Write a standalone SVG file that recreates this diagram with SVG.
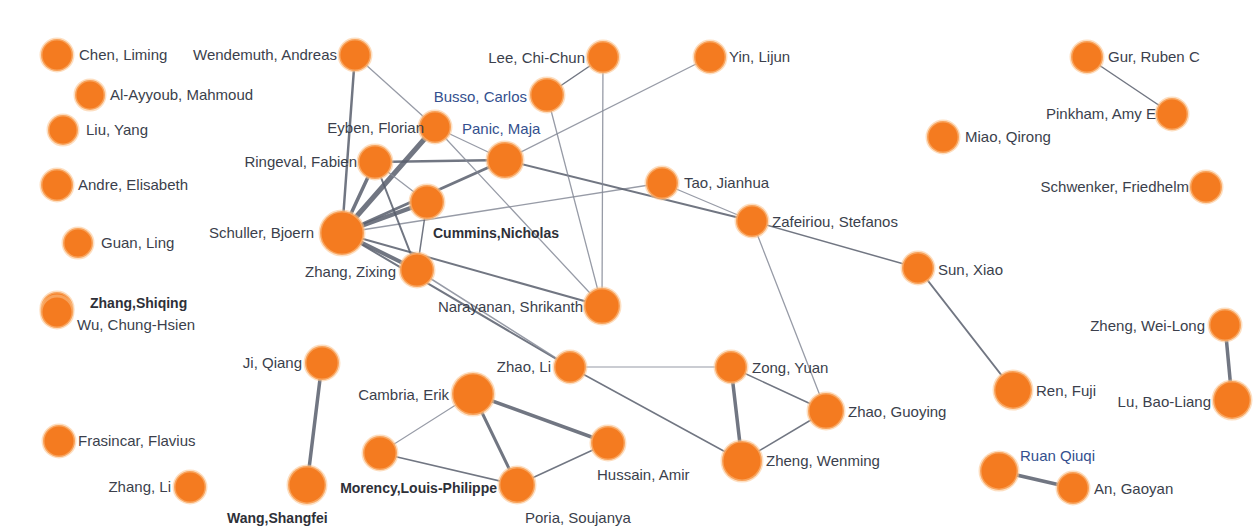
<svg xmlns="http://www.w3.org/2000/svg" width="1253" height="532" viewBox="0 0 1253 532">
  <style>
    .node { fill: #F47B20; stroke: #FCC38C; stroke-width: 3; stroke-opacity: 0.55; }
    .lbl { font-family: "Liberation Sans", Arial, sans-serif; font-size: 15px; fill: #3b3f4c; }
    .b { font-weight: bold; fill: #2e3038; font-size: 14px; }
    .blue { fill: #34508e; }
    .end { text-anchor: end; }
    .e { stroke: #585e6c; stroke-opacity: 0.85; fill: none; stroke-linecap: round; }
    .lt { stroke: #858a96; }
  </style>
  <rect width="1253" height="532" fill="#ffffff"/>

  <!-- co-author links -->
  <g id="connectors">
    <line class="e" x1="355" y1="55" x2="342" y2="233" stroke-width="2.5"/>
    <line class="e lt" x1="355" y1="55" x2="435" y2="127" stroke-width="1.3"/>
    <line class="e" x1="342" y1="233" x2="435" y2="127" stroke-width="5"/>
    <line class="e" x1="342" y1="233" x2="375" y2="162" stroke-width="3.5"/>
    <line class="e" x1="342" y1="233" x2="427" y2="202" stroke-width="4.5"/>
    <line class="e" x1="342" y1="233" x2="505" y2="160" stroke-width="3"/>
    <line class="e" x1="342" y1="233" x2="417" y2="270" stroke-width="4"/>
    <line class="e" x1="342" y1="233" x2="602" y2="306" stroke-width="2"/>
    <line class="e lt" x1="342" y1="233" x2="662" y2="183" stroke-width="1.3"/>
    <line class="e" x1="342" y1="233" x2="570" y2="367" stroke-width="2"/>
    <line class="e lt" x1="417" y1="270" x2="570" y2="367" stroke-width="1.5"/>
    <line class="e" x1="375" y1="162" x2="505" y2="160" stroke-width="2.5"/>
    <line class="e" x1="375" y1="162" x2="417" y2="270" stroke-width="2"/>
    <line class="e lt" x1="375" y1="162" x2="427" y2="202" stroke-width="1.3"/>
    <line class="e lt" x1="435" y1="127" x2="505" y2="160" stroke-width="1.3"/>
    <line class="e lt" x1="435" y1="127" x2="602" y2="306" stroke-width="1.3"/>
    <line class="e" x1="427" y1="202" x2="417" y2="270" stroke-width="1.5"/>
    <line class="e lt" x1="505" y1="160" x2="710" y2="57" stroke-width="1.3"/>
    <line class="e" x1="505" y1="160" x2="752" y2="221" stroke-width="2"/>
    <line class="e lt" x1="662" y1="183" x2="752" y2="221" stroke-width="1.3"/>
    <line class="e" x1="752" y1="221" x2="918" y2="268" stroke-width="1.5"/>
    <line class="e lt" x1="752" y1="221" x2="826" y2="411" stroke-width="1.3"/>
    <line class="e" x1="918" y1="268" x2="1013" y2="390" stroke-width="2"/>
    <line class="e" x1="603" y1="57" x2="547" y2="95" stroke-width="1.5"/>
    <line class="e lt" x1="603" y1="57" x2="602" y2="306" stroke-width="1.3"/>
    <line class="e lt" x1="547" y1="95" x2="602" y2="306" stroke-width="1.3"/>
    <line class="e lt" x1="570" y1="367" x2="731" y2="367" stroke-width="1.2"/>
    <line class="e" x1="570" y1="367" x2="742" y2="461" stroke-width="1.5"/>
    <line class="e" x1="731" y1="367" x2="742" y2="461" stroke-width="3.5"/>
    <line class="e" x1="731" y1="367" x2="826" y2="411" stroke-width="1.5"/>
    <line class="e" x1="742" y1="461" x2="826" y2="411" stroke-width="1.5"/>
    <line class="e" x1="473" y1="394" x2="608" y2="443" stroke-width="3.5"/>
    <line class="e" x1="473" y1="394" x2="517" y2="485" stroke-width="3"/>
    <line class="e lt" x1="473" y1="394" x2="380" y2="453" stroke-width="1.1"/>
    <line class="e" x1="380" y1="453" x2="517" y2="485" stroke-width="1.5"/>
    <line class="e" x1="517" y1="485" x2="608" y2="443" stroke-width="1.5"/>
    <line class="e" x1="322" y1="363" x2="307" y2="485" stroke-width="3.5"/>
    <line class="e" x1="1087" y1="57" x2="1172" y2="114" stroke-width="1.5"/>
    <line class="e" x1="1225" y1="325" x2="1232" y2="400" stroke-width="3.5"/>
    <line class="e" x1="999" y1="471" x2="1073" y2="488" stroke-width="3.5"/>
  </g>

  <g id="chen"><circle class="node" cx="57" cy="55" r="16"/><text class="lbl" x="79" y="60">Chen, Liming</text></g>
  <g id="wendemuth"><circle class="node" cx="355" cy="55" r="16"/><text class="lbl end" x="337" y="60">Wendemuth, Andreas</text></g>
  <g id="alayyoub"><circle class="node" cx="90" cy="95" r="15"/><text class="lbl" x="110" y="100">Al-Ayyoub, Mahmoud</text></g>
  <g id="liu"><circle class="node" cx="63" cy="130" r="15"/><text class="lbl" x="86" y="135">Liu, Yang</text></g>
  <g id="andre"><circle class="node" cx="57" cy="185" r="16"/><text class="lbl" x="78" y="190">Andre, Elisabeth</text></g>
  <g id="guan"><circle class="node" cx="78" cy="243" r="15"/><text class="lbl" x="101" y="248">Guan, Ling</text></g>
  <g id="zhang-shiqing"><circle class="node" cx="57" cy="308" r="16"/><circle class="node" cx="57" cy="312" r="16"/><text class="lbl b" x="90" y="308">Zhang,Shiqing</text><text class="lbl" x="77" y="330">Wu, Chung-Hsien</text></g>
  <g id="frasincar"><circle class="node" cx="59" cy="441" r="16"/><text class="lbl" x="78" y="446">Frasincar, Flavius</text></g>
  <g id="zhang-li"><circle class="node" cx="190" cy="487" r="16"/><text class="lbl end" x="171" y="492">Zhang, Li</text></g>
  <g id="schuller"><circle class="node" cx="342" cy="233" r="22"/><text class="lbl end" x="314" y="238">Schuller, Bjoern</text></g>
  <g id="zhang-zixing"><circle class="node" cx="417" cy="270" r="17"/><text class="lbl end" x="396" y="277">Zhang, Zixing</text></g>
  <g id="eyben"><circle class="node" cx="435" cy="127" r="16"/><text class="lbl end" x="424" y="133">Eyben, Florian</text></g>
  <g id="ringeval"><circle class="node" cx="375" cy="162" r="17"/><text class="lbl end" x="357" y="167">Ringeval, Fabien</text></g>
  <g id="panic"><circle class="node" cx="505" cy="160" r="18"/><text class="lbl blue" x="462" y="134">Panic, Maja</text></g>
  <g id="cummins"><circle class="node" cx="427" cy="202" r="17"/><text class="lbl b" x="433" y="238">Cummins,Nicholas</text></g>
  <g id="busso"><circle class="node" cx="547" cy="95" r="17"/><text class="lbl blue end" x="527" y="102">Busso, Carlos</text></g>
  <g id="lee"><circle class="node" cx="603" cy="57" r="16"/><text class="lbl end" x="585" y="63">Lee, Chi-Chun</text></g>
  <g id="yin"><circle class="node" cx="710" cy="57" r="16"/><text class="lbl" x="729" y="62">Yin, Lijun</text></g>
  <g id="tao"><circle class="node" cx="662" cy="183" r="16"/><text class="lbl" x="684" y="188">Tao, Jianhua</text></g>
  <g id="zafeiriou"><circle class="node" cx="752" cy="221" r="16"/><text class="lbl" x="772" y="227">Zafeiriou, Stefanos</text></g>
  <g id="sun"><circle class="node" cx="918" cy="268" r="16"/><text class="lbl" x="938" y="275">Sun, Xiao</text></g>
  <g id="ren"><circle class="node" cx="1013" cy="390" r="19"/><text class="lbl" x="1036" y="396">Ren, Fuji</text></g>
  <g id="zheng-weilong"><circle class="node" cx="1225" cy="325" r="16"/><text class="lbl end" x="1205" y="331">Zheng, Wei-Long</text></g>
  <g id="lu-baoliang"><circle class="node" cx="1232" cy="400" r="19"/><text class="lbl end" x="1211" y="407">Lu, Bao-Liang</text></g>
  <g id="gur"><circle class="node" cx="1087" cy="57" r="16"/><text class="lbl" x="1108" y="62">Gur, Ruben C</text></g>
  <g id="pinkham"><circle class="node" cx="1172" cy="114" r="16"/><text class="lbl end" x="1156" y="119">Pinkham, Amy E</text></g>
  <g id="miao"><circle class="node" cx="943" cy="137" r="16"/><text class="lbl" x="965" y="142">Miao, Qirong</text></g>
  <g id="schwenker"><circle class="node" cx="1206" cy="187" r="16"/><text class="lbl end" x="1189" y="192">Schwenker, Friedhelm</text></g>
  <g id="narayanan"><circle class="node" cx="602" cy="306" r="18"/><text class="lbl end" x="583" y="312">Narayanan, Shrikanth</text></g>
  <g id="zhao-li"><circle class="node" cx="570" cy="367" r="16"/><text class="lbl end" x="551" y="372">Zhao, Li</text></g>
  <g id="ji-qiang"><circle class="node" cx="322" cy="363" r="17"/><text class="lbl end" x="302" y="368">Ji, Qiang</text></g>
  <g id="cambria"><circle class="node" cx="473" cy="394" r="21"/><text class="lbl end" x="449" y="400">Cambria, Erik</text></g>
  <g id="wang"><circle class="node" cx="307" cy="485" r="19"/><text class="lbl b" x="227" y="523">Wang,Shangfei</text></g>
  <g id="morency"><circle class="node" cx="380" cy="453" r="17"/><text class="lbl b end" x="497" y="493">Morency,Louis-Philippe</text></g>
  <g id="poria"><circle class="node" cx="517" cy="485" r="18"/><text class="lbl" x="525" y="523">Poria, Soujanya</text></g>
  <g id="hussain"><circle class="node" cx="608" cy="443" r="17"/><text class="lbl" x="597" y="480">Hussain, Amir</text></g>
  <g id="zong"><circle class="node" cx="731" cy="367" r="16"/><text class="lbl" x="752" y="373">Zong, Yuan</text></g>
  <g id="zhao-guoying"><circle class="node" cx="826" cy="411" r="18"/><text class="lbl" x="848" y="417">Zhao, Guoying</text></g>
  <g id="zheng-wenming"><circle class="node" cx="742" cy="461" r="20"/><text class="lbl" x="766" y="466">Zheng, Wenming</text></g>
  <g id="ruan"><circle class="node" cx="999" cy="471" r="19"/><text class="lbl blue" x="1020" y="461">Ruan Qiuqi</text></g>
  <g id="an"><circle class="node" cx="1073" cy="488" r="16"/><text class="lbl" x="1094" y="494">An, Gaoyan</text></g>
</svg>
